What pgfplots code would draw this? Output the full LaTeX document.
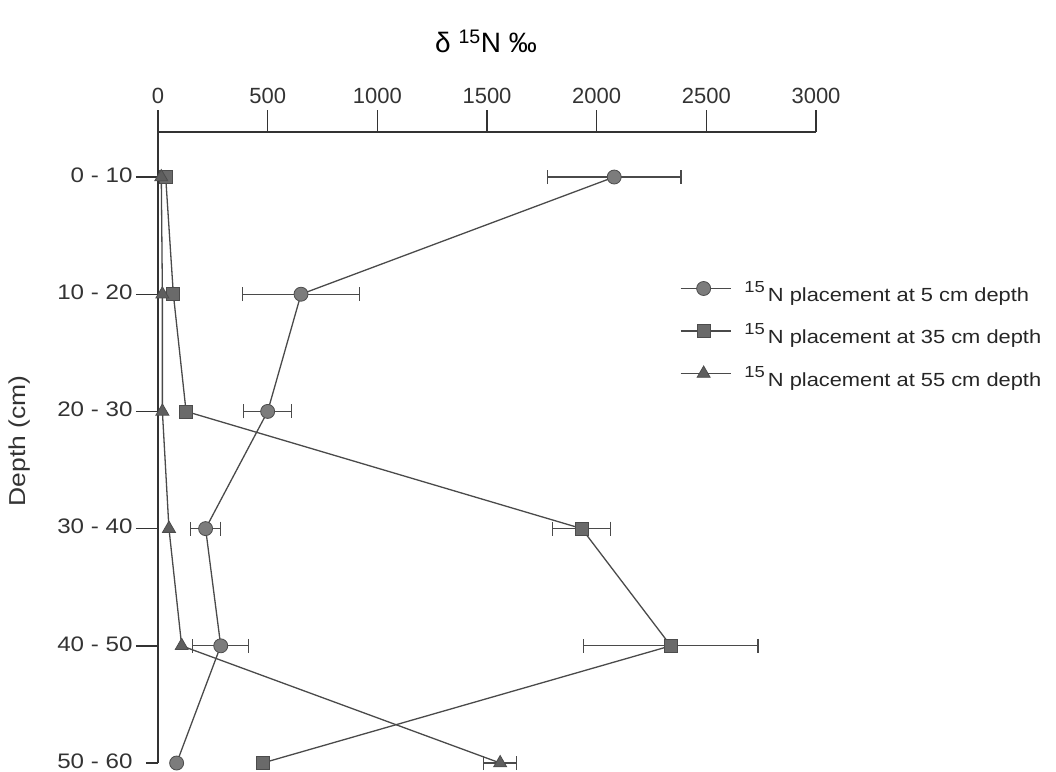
\documentclass[border=0pt]{standalone}
\usepackage{fontspec}
\setmainfont{Liberation Sans}
\newfontfamily\wide{Liberation Sans}[FakeStretch=1.15]
\usepackage{pgfplots}
\usepackage{pgfplotstable}
\pgfplotsset{compat=1.18}

% y = depth class index (0 = 0-10 cm ... 5 = 50-60 cm)
\pgfplotstableread{
x y
2080 0
652 1
500 2
217 3
286 4
85 5
}\tabA
\pgfplotstableread{
x y ex
2080 0 305
652 1 268
500 2 109
217 3 68
286 4 128
}\tabAerr
\pgfplotstableread{
x y
35 0
70 1
128 2
1932 3
2338 4
477 5
}\tabB
\pgfplotstableread{
x y ex
1932 3 132
2338 4 398
}\tabBerr
\pgfplotstableread{
x y
15 0
20 1
20 2
50 3
108 4
1560 5
}\tabC
\pgfplotstableread{
x y ex
1560 5 75
}\tabCerr

\definecolor{ln}{HTML}{4A4A4A}
\definecolor{mkA}{HTML}{7C7C7C}
\definecolor{mkB}{HTML}{6A6A6A}
\definecolor{mkC}{HTML}{5E5E5E}

\newcommand{\leg}[1]{\hspace{11pt}\raisebox{-7pt}{\raisebox{9pt}{\fontsize{16}{16}\selectfont 15}\,N placement at #1 cm depth}}

\begin{document}
\begin{tikzpicture}
\path[use as bounding box] (0pt,0pt) rectangle (1056pt,-771pt);
\begin{axis}[
  at={(158pt,-132pt)}, anchor=north west,
  scale only axis, width=658pt, height=631pt,
  xmin=0, xmax=3000, ymin=-0.384, ymax=5, y dir=reverse,
  axis x line*=top, axis y line*=left,
  axis line style={line width=1.6pt, color=black!80, -},
  xtick={0,500,...,3000},
  ytick={0,1,2,3,4,5},
  yticklabels={0 - 10,10 - 20,20 - 30,30 - 40,40 - 50,50 - 60},
  tick align=outside, major tick length=22pt,
  x tick style={line width=1.4pt, color=black!80},
  y tick style={line width=1.4pt, color=black!80, shorten <=10pt},
  minor tick num=0,
  /pgf/number format/assume math mode=true,
  /pgf/number format/1000 sep={},
  xticklabel style={font=\fontsize{22}{26}\selectfont, text=black!80, yshift=3pt},
  yticklabel style={font=\wide\fontsize{21}{25}\selectfont, text=black!80, yshift=2pt},
  clip=false,
  legend style={at={(0.793,0.767)}, anchor=north west, draw=none, fill=none,
    font=\wide\fontsize{19}{23}\selectfont, text=black!85, row sep=24pt, inner sep=0pt,
    cells={anchor=west}},
  legend image code/.code={
    \draw[mark repeat=2, mark phase=2, #1] plot coordinates {(0pt,0pt) (23pt,0pt) (50pt,0pt)};
  },
  ebar/.style={forget plot, only marks, mark=none, color=ln,
    error bars/.cd, x dir=both, x explicit, error mark=|,
    error bar style={line width=1.3pt, color=ln},
    error mark options={line width=1.3pt, mark size=7pt, color=ln}},
]
% error bars first, so that the markers lie on top of them
\addplot[ebar] table[x=x,y=y,x error=ex] {\tabAerr};
\addplot[ebar] table[x=x,y=y,x error=ex] {\tabBerr};
\addplot[ebar] table[x=x,y=y,x error=ex] {\tabCerr};

\addplot[ln, line width=1.3pt, mark=*, mark size=7pt,
  mark options={fill=mkA, draw=black!70, line width=0.8pt}] table[x=x,y=y] {\tabA};
\addlegendentry{\leg{5}}
\addplot[ln, line width=1.3pt, mark=square*, mark size=6.5pt,
  mark options={fill=mkB, draw=black!70, line width=0.8pt}] table[x=x,y=y] {\tabB};
\addlegendentry{\leg{35}}
\addplot[ln, line width=1.3pt, mark=triangle*, mark size=7.5pt,
  mark options={fill=mkC, draw=black!70, line width=0.8pt}] table[x=x,y=y] {\tabC};
\addlegendentry{\leg{55}}
\end{axis}
\node[font=\fontsize{28}{32}\selectfont] at (486pt,-41pt) {δ \textsuperscript{15}N ‰};
\node[rotate=90, font=\wide\fontsize{23}{27}\selectfont, text=black!80] at (20pt,-441pt) {Depth (cm)};
\end{tikzpicture}
\end{document}
